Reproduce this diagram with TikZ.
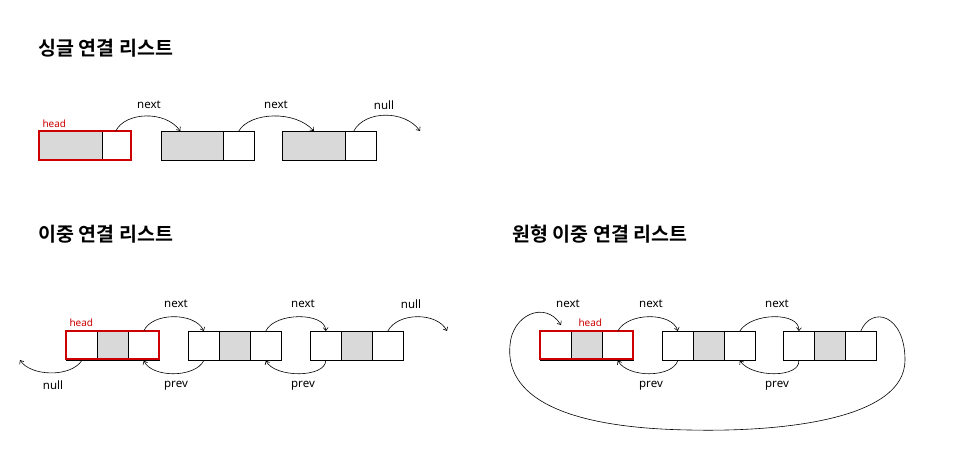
\documentclass[tikz,border=0pt]{standalone}
\usepackage{fontspec}
\setmainfont{Noto Sans}
\newfontfamily\kr{Noto Sans CJK KR Bold}
\usetikzlibrary{arrows.meta,calc}
\begin{document}
\begin{tikzpicture}[x=1pt,y=-1pt,
  cell/.style={draw,line width=0.6pt,minimum height=29pt,inner sep=0pt,anchor=north west},
  gray/.style={fill=black!15},
  redbox/.style={draw=red!80!black,line width=1.3pt},
  lnk/.style={-{Straight Barb[length=3pt,width=5pt]},line width=0.6pt},
  lab/.style={font=\fontsize{11.5}{13}\selectfont},
  hd/.style={font=\fontsize{10}{12}\selectfont,text=red!80!black},
  ttl/.style={font=\kr\fontsize{19.5}{23}\selectfont,anchor=west}]
\useasboundingbox (0,0) rectangle (960,475);
% titles
\node[ttl] (t1) at (35,48) {싱글 연결 리스트};
\node[ttl] (t2) at (35,234) {이중 연결 리스트};
\node[ttl] (t3) at (509,234) {원형 이중 연결 리스트};
% single list
\node[cell,gray,minimum width=63pt] (s1a) at (39,131) {};
\node[cell,minimum width=29pt] (s1b) at (102,131) {};
\draw[redbox] (39,131) rectangle (131,160);
\node[cell,gray,minimum width=62pt] (s2a) at (161,131) {};
\node[cell,minimum width=31pt] (s2b) at (223,131) {};
\node[cell,gray,minimum width=63pt] (s3a) at (282,131) {};
\node[cell,minimum width=31pt] (s3b) at (345,131) {};
\coordinate (snull) at (420,131);
\node[hd,anchor=west] (sh) at (39,124) {head};
\draw[lnk] ($(s1b.north)+(-1,0)$) .. controls (125,112) and (165,110) .. ($(s2a.north)+(-12,0)$);
\draw[lnk] ($(s2b.north)+(0,0)$) .. controls (250,112) and (295,110) .. ($(s3a.north)+(0,0)$);
\draw[lnk] ($(s3b.north)+(-7,0)$) .. controls (365,110) and (405,110) .. (snull);
\node[lab] (sl1) at (149,105) {next};
\node[lab] (sl2) at (276,105) {next};
\node[lab] (sl3) at (384,105) {null};
% doubly list
\foreach \n/\x in {d1/66,d2/188,d3/310}{
  \node[cell,minimum width=31pt] (\n a) at (\x,331) {};
  \node[cell,gray,minimum width=31pt] (\n b) at (\x+31,331) {};
  \node[cell,minimum width=31pt] (\n c) at (\x+62,331) {};
}
\draw[redbox] (66,331) rectangle (159,359);
\node[hd,anchor=west] (dh) at (66,323) {head};
\coordinate (dnull) at (447,331);
\coordinate (dnullL) at (20,360);
\draw[lnk] (d1c.north) .. controls (152,312) and (195,312) .. (d2a.north);
\draw[lnk] (d2c.north) .. controls (275,312) and (325,312) .. (d3a.north);
\draw[lnk] (d3c.north) .. controls (398,312) and (437,312) .. (dnull);
\draw[lnk] (d2a.south) .. controls (195,378) and (152,378) .. (d1c.south);
\draw[lnk] (d3a.south) .. controls (325,378) and (275,378) .. (d2c.south);
\draw[lnk] (d1a.south) .. controls (70,378) and (30,376) .. (dnullL);
\foreach \p/\q/\s in {176/304/next,303/304/next,411/304/null,176/386/prev,303/386/prev,53/385/null}
  \node[lab] at (\p,\q) {\s};
% circular
\foreach \n/\x in {c1/540,c2/662,c3/783}{
  \node[cell,minimum width=31pt] (\n a) at (\x,331) {};
  \node[cell,gray,minimum width=31pt] (\n b) at (\x+31,331) {};
  \node[cell,minimum width=31pt] (\n c) at (\x+62,331) {};
}
\draw[redbox] (540,331) rectangle (633,359);
\node[hd,anchor=west] (ch) at (575,323) {head};
\draw[lnk] (c1c.north) .. controls (628,312) and (672,312) .. (c2a.north);
\draw[lnk] (c2c.north) .. controls (752,312) and (800,312) .. (c3a.north);
\draw[lnk] (c2a.south) .. controls (672,378) and (628,378) .. (c1c.south);
\draw[lnk] (c3a.south) .. controls (800,378) and (752,378) .. (c2c.south);
\draw[lnk] (c3c.north) .. controls (872,305) and (905,315) .. (905,360)
  .. controls (905,420) and (780,432) .. (690,430)
  .. controls (560,428) and (505,395) .. (510,345)
  .. controls (512,315) and (545,300) .. (561,325);
\node[lab] at (568,304) {next};
\foreach \p/\q/\s in {651/304/next,777/304/next,651/386/prev,777/386/prev}
  \node[lab] at (\p,\q) {\s};
\end{tikzpicture}
\end{document}
